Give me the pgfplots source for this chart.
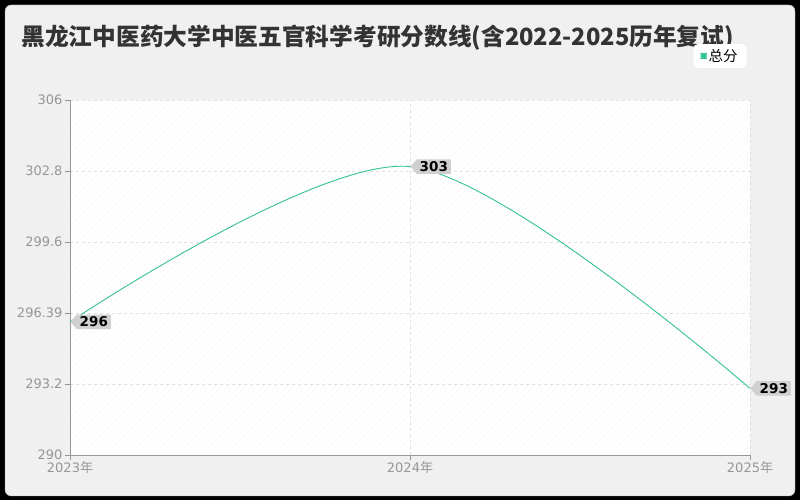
\documentclass[border=0pt]{standalone}
\usepackage{fontspec}
\setmainfont{DejaVu Sans}
\newfontfamily\cjk{Noto Sans CJK SC}
\usepackage{pgfplots}
\pgfplotsset{compat=1.18}
\usetikzlibrary{patterns.meta,shapes.symbols}

\definecolor{bgcol}{RGB}{240,240,240}
\definecolor{linecol}{RGB}{52,194,146}
\definecolor{tickcol}{RGB}{150,150,150}
\definecolor{gridcol}{RGB}{224,224,224}
\definecolor{labcol}{RGB}{208,208,208}

\begin{document}
\begin{tikzpicture}[x=1pt,y=1pt]
  % frame and background
  \fill[black] (0,0) rectangle (800,500);
  \filldraw[fill=bgcol, draw=gray!70, rounded corners=6pt] (5,4) rectangle (795,495);
  \node[anchor=west, font=\cjk\bfseries\fontsize{23.7}{26}\selectfont, text=black!80]
    at (18,462) {黑龙江中医药大学中医五官科学考研分数线(含2022-2025历年复试)};

  \begin{axis}[
      at={(70pt,45pt)}, anchor=south west,
      scale only axis,
      width=680pt, height=355pt,
      xmin=2023, xmax=2025,
      ymin=290, ymax=306,
      clip=false,
      axis lines*=left,
      axis line style={tickcol, line width=0.8pt},
      tick style={tickcol, line width=0.8pt},
      tick align=outside,
      major tick length=5pt,
      xtick={2023,2024,2025},
      xticklabels={2023{\cjk 年},2024{\cjk 年},2025{\cjk 年}},
      ytick={290,293.2,296.39,299.6,302.8,306},
      yticklabels={290,293.2,296.39,299.6,302.8,306},
      ticklabel style={font=\fontsize{13}{14}\selectfont, text=tickcol},
      xticklabel style={yshift=2pt},
      yticklabel style={xshift=1pt},
      /pgf/number format/assume math mode=true,
      xmajorgrids=true, ymajorgrids=true,
      grid style={gridcol, dashed, line width=0.7pt},
      axis background/.style={fill=white,
        postaction={pattern={Lines[angle=45,distance=4pt,line width=0.4pt]}, pattern color=gray!9}},
      legend style={at={(0.956,1.124)}, anchor=center, draw=none, fill=white,
        rounded corners=4pt, font=\cjk\fontsize{14.5}{15}\selectfont,
        inner xsep=7pt, inner ysep=3pt},
      legend image code/.code={\fill[linecol] (2pt,-2.5pt) rectangle (7pt,2.5pt);},
    ]
    \addplot[color=linecol, line width=0.9pt, smooth, mark=none,
      point meta=explicit symbolic,
      nodes near coords,
      every node near coord/.style={signal, signal to=west, signal from=nowhere,
        signal pointer angle=100, fill=labcol, anchor=west,
        font=\bfseries\fontsize{13.5}{14}\selectfont, text=black,
        inner xsep=3pt, inner ysep=2.2pt},
      ]
      coordinates {
        (2023,296) [296]
        (2024,303) [303]
        (2025,293) [293]
      };
    \addlegendentry{总分}
  \end{axis}
\end{tikzpicture}
\end{document}
